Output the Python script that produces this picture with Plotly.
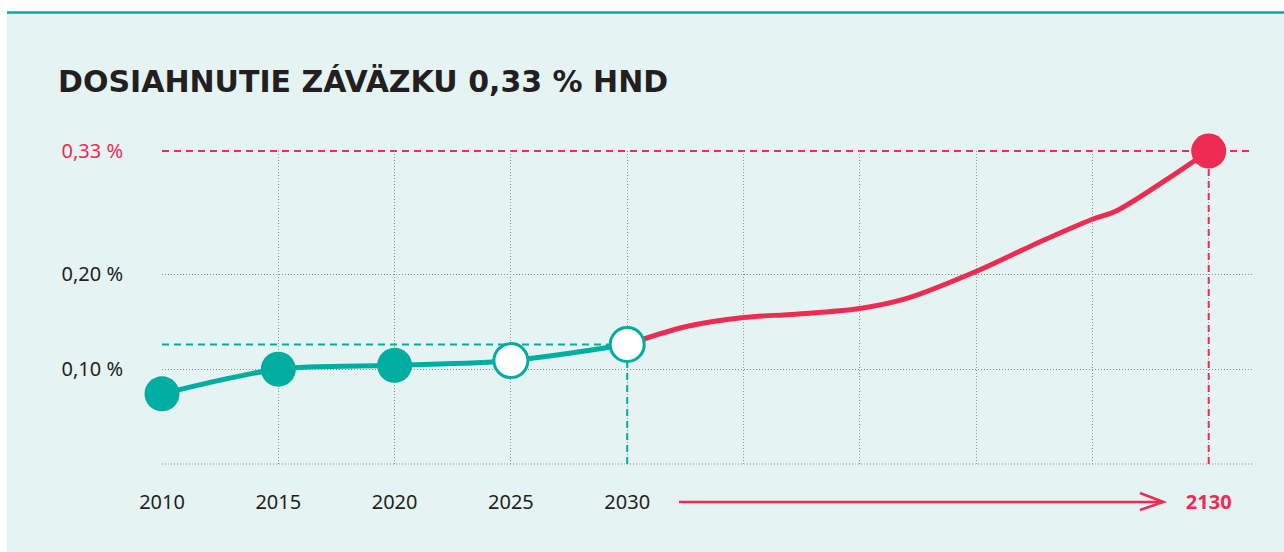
import plotly.graph_objects as go

# ---- data ----
teal_years = ["2010", "2015", "2020", "2025", "2030"]
teal_pos = [0, 1, 2, 3, 4]
teal_values = [0.074, 0.100, 0.104, 0.109, 0.126]
teal_filled = [True, True, True, False, False]

red_pos = [4, 4.51, 5, 5.45, 6, 6.39, 7, 7.51, 8, 8.2, 8.64, 9]
red_values = [0.126, 0.145, 0.1545, 0.158, 0.164, 0.174, 0.203, 0.232, 0.258, 0.2665, 0.300, 0.33]

target_year = "2130"
target_pos = 9
target_value = 0.33

y_ticks = [0.10, 0.20, 0.33]
y_ticktext = ["0,10 %", "0,20 %", '<span style="color:#ee2b52">0,33 %</span>']

TEAL = "#00ada1"
RED = "#ee2b52"
BG = "#e5f4f2"
DARK = "#231f20"
GRID = "#8e9594"

fig = go.Figure()

# red projection curve
fig.add_trace(go.Scatter(
    x=red_pos, y=red_values, mode="lines",
    line=dict(color=RED, width=5, shape="spline", smoothing=1.0),
    cliponaxis=False, hoverinfo="skip", showlegend=False))

# teal curve
fig.add_trace(go.Scatter(
    x=teal_pos, y=teal_values, mode="lines",
    line=dict(color=TEAL, width=5, shape="spline", smoothing=0.8),
    cliponaxis=False, hoverinfo="skip", showlegend=False))

# teal markers
fig.add_trace(go.Scatter(
    x=teal_pos, y=teal_values, mode="markers",
    marker=dict(size=[35 if f else 34 for f in teal_filled],
                color=[TEAL if f else "white" for f in teal_filled],
                opacity=1,
                line=dict(color=TEAL, width=[0 if f else 3 for f in teal_filled])),
    cliponaxis=False, showlegend=False))

# target marker
fig.add_trace(go.Scatter(
    x=[target_pos], y=[target_value], mode="markers",
    marker=dict(size=35, color=RED, opacity=1),
    cliponaxis=False, showlegend=False))

shapes = []
L, R, T, B = 162, 1254, 151, 464
W, H = R - L, B - T
def px(x):
    return (x - L) / W
def py(y):
    return (B - y) / H

# page decoration
shapes.append(dict(type="rect", xref="paper", yref="paper", x0=px(0), x1=px(1284), y0=py(0), y1=py(12),
                   fillcolor="white", line=dict(width=0), layer="below"))
shapes.append(dict(type="rect", xref="paper", yref="paper", x0=px(0), x1=px(7), y0=py(0), y1=py(552),
                   fillcolor="white", line=dict(width=0), layer="below"))
shapes.append(dict(type="line", xref="paper", yref="paper", x0=px(7), x1=px(1284), y0=py(12.5), y1=py(12.5),
                   line=dict(color=TEAL, width=2.5)))

# reference dashed lines
DASH = "7px,5px"
# y range tops out at target_value, so the target line sits on the top edge (paper y=1)
shapes.append(dict(type="line", xref="paper", yref="paper", x0=0, x1=1, y0=1, y1=1,
                   line=dict(color=RED, width=2, dash=DASH), layer="between"))
shapes.append(dict(type="line", xref="x", yref="y", x0=target_pos, x1=target_pos, y0=0, y1=target_value,
                   line=dict(color=RED, width=2, dash=DASH), layer="between"))
shapes.append(dict(type="line", xref="x", yref="y", x0=0, x1=teal_pos[-1], y0=teal_values[-1], y1=teal_values[-1],
                   line=dict(color=TEAL, width=2, dash=DASH), layer="between"))
shapes.append(dict(type="line", xref="x", yref="y", x0=teal_pos[-1], x1=teal_pos[-1], y0=0, y1=teal_values[-1],
                   line=dict(color=TEAL, width=2, dash=DASH), layer="between"))
# bottom dotted baseline
shapes.append(dict(type="line", xref="paper", yref="paper", x0=0, x1=1, y0=0, y1=0,
                   line=dict(color=GRID, width=1, dash="1px,2px"), layer="below"))

# timeline arrow
ay = py(502)
shapes.append(dict(type="line", xref="paper", yref="paper", x0=px(679), x1=px(1163), y0=ay, y1=ay,
                   line=dict(color=RED, width=2.5)))
shapes.append(dict(type="path", xref="paper", yref="paper",
                   path=f"M {px(1140)},{py(493)} L {px(1163.5)},{ay} L {px(1140)},{py(510)}",
                   line=dict(color=RED, width=2.5)))

x_tickvals = list(range(0, 10))
x_ticktext = teal_years + ["", "", "", ""] + [f'<b><span style="color:{RED}">{target_year}</span></b>']

fig.update_layout(
    width=1284, height=552,
    margin=dict(l=L, r=1284 - R, t=T, b=552 - B, pad=0),
    paper_bgcolor=BG, plot_bgcolor=BG,
    title=dict(text="<b>DOSIAHNUTIE ZÁVÄZKU 0,33 % HND</b>", x=58 / 1284, xref="container", xanchor="left",
               y=1 - 81 / 552, yref="container", yanchor="middle",
               font=dict(family="DejaVu Sans", size=30, color=DARK)),
    shapes=shapes,
    font=dict(family="Noto Sans", size=20, color=DARK),
    xaxis=dict(range=[0, W / 116.3], tickvals=x_tickvals, ticktext=x_ticktext,
               showgrid=True, gridcolor=GRID, griddash="1px,2px", gridwidth=1,
               zeroline=False, showline=False, ticks="", ticklabelstandoff=24,
               tickfont=dict(size=20, color=DARK)),
    yaxis=dict(range=[0, target_value], tickvals=y_ticks, ticktext=y_ticktext,
               showgrid=True, gridcolor=GRID, griddash="1px,2px", gridwidth=1,
               zeroline=False, showline=False, ticks="", ticklabelstandoff=38,
               tickfont=dict(size=20, color=DARK)),
    showlegend=False,
)

fig.write_html("out.html", config={"displayModeBar": False},
               post_script="document.body.style.margin='0';document.body.style.overflow='hidden';")
